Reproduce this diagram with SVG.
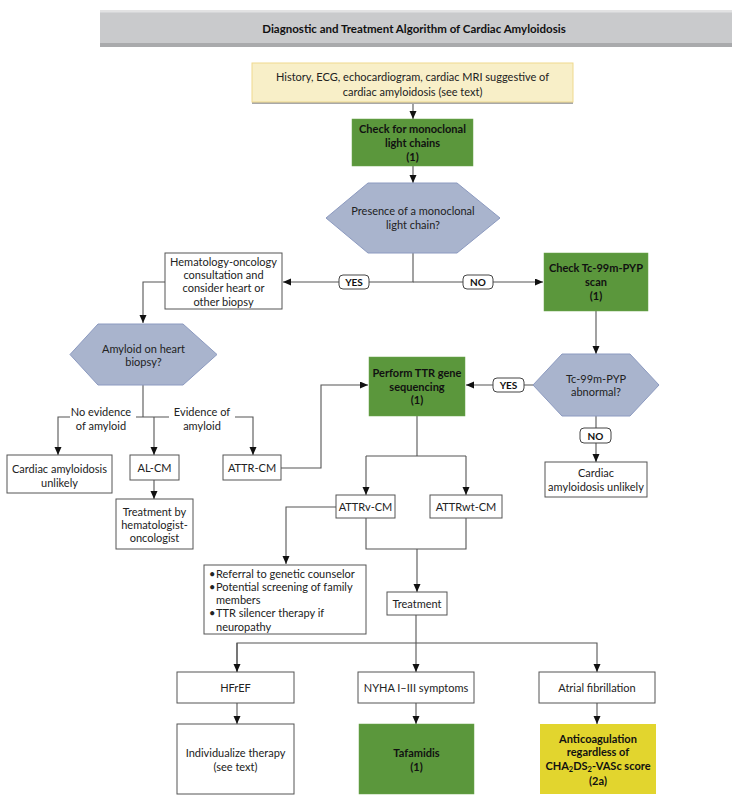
<svg xmlns="http://www.w3.org/2000/svg" width="736" height="802" viewBox="0 0 736 802">
<style>
text{font-family:Lato,"Open Sans","Liberation Sans",sans-serif;font-size:11px;fill:#222;text-anchor:middle}
.b{font-weight:bold;fill:#111}
.box{fill:#fff;stroke:#555;stroke-width:1}
.green{fill:#5b973c;stroke:#6aa54a;stroke-width:0.5}
.hex{fill:#a9b4cd;stroke:#8c9ac0;stroke-width:1}
.lab{fill:#fff;stroke:#444;stroke-width:1}
.c{fill:none;stroke:#555;stroke-width:1.1}
.bl{text-anchor:start}
</style>
<defs>
<marker id="ah" markerWidth="8" markerHeight="8" refX="8" refY="3.5" orient="auto" markerUnits="userSpaceOnUse">
<path d="M0,0 L8,3.5 L0,7 z" fill="#111"/>
</marker>
</defs>
<rect width="736" height="802" fill="#fff"/>

<g id="title">
<rect x="100" y="10" width="632" height="37" fill="#c9cacc"/>
<rect x="100" y="10" width="632" height="2.5" fill="#e2e2e3"/>
<rect x="100" y="43" width="632" height="4" fill="#a9aaac"/>
<text x="414" y="33" class="b" style="font-size:11.5px">Diagnostic and Treatment Algorithm of Cardiac Amyloidosis</text>
</g>

<g id="connectors">
<path class="c" d="M413,104 V119" marker-end="url(#ah)"/>
<path class="c" d="M413,166 V183" marker-end="url(#ah)"/>
<path class="c" d="M413,253 V282 H283" marker-end="url(#ah)"/>
<path class="c" d="M413,282 H543" marker-end="url(#ah)"/>
<path class="c" d="M165,282 H143 V323" marker-end="url(#ah)"/>
<path class="c" d="M143,385 V417"/>
<path class="c" d="M136,417 H169"/>
<path class="c" d="M154,417 V455" marker-end="url(#ah)"/>
<path class="c" d="M70,417 H58 V455" marker-end="url(#ah)"/>
<path class="c" d="M235,417 H253 V455" marker-end="url(#ah)"/>
<path class="c" d="M154,480 V499" marker-end="url(#ah)"/>
<path class="c" d="M281,468 H321 V385 H368" marker-end="url(#ah)"/>
<path class="c" d="M596,311 V354" marker-end="url(#ah)"/>
<path class="c" d="M533,385 H466" marker-end="url(#ah)"/>
<path class="c" d="M596,416 V462" marker-end="url(#ah)"/>
<path class="c" d="M417,416 V456"/>
<path class="c" d="M366,456 H466"/>
<path class="c" d="M366,456 V495" marker-end="url(#ah)"/>
<path class="c" d="M466,456 V495" marker-end="url(#ah)"/>
<path class="c" d="M336,507 H286 V564" marker-end="url(#ah)"/>
<path class="c" d="M366,518 V549 H466 V518"/>
<path class="c" d="M417,549 V592" marker-end="url(#ah)"/>
<path class="c" d="M416,615 V672" marker-end="url(#ah)"/>
<path class="c" d="M237,672 V643 H597 V672" marker-end="url(#ah)"/>
<path class="c" d="M237,643 V672" marker-end="url(#ah)"/>
<path class="c" d="M237,703 V724" marker-end="url(#ah)"/>
<path class="c" d="M416,703 V724" marker-end="url(#ah)"/>
<path class="c" d="M597,703 V724" marker-end="url(#ah)"/>
<rect class="lab" x="339" y="275" width="30" height="14" rx="4"/>
<text x="354" y="286" class="b" style="font-size:10px">YES</text>
<rect class="lab" x="463" y="275" width="30" height="14" rx="4"/>
<text x="478" y="286" class="b" style="font-size:10px">NO</text>
<rect class="lab" x="493" y="378" width="31" height="14" rx="4"/>
<text x="508.5" y="389" class="b" style="font-size:10px">YES</text>
<rect class="lab" x="580" y="428" width="31" height="15" rx="4"/>
<text x="595.5" y="439.5" class="b" style="font-size:10px">NO</text>
<text x="101" y="416">No evidence</text>
<text x="101" y="430">of amyloid</text>
<text x="202" y="416">Evidence of</text>
<text x="202" y="430">amyloid</text>
</g>

<g id="start">
<rect x="252" y="65" width="321" height="39" fill="#a8a8a8"/>
<rect x="252" y="63" width="321" height="39" fill="#f8efc8" stroke="#efd98e" stroke-width="1"/>
<text x="412.5" y="81">History, ECG, echocardiogram, cardiac MRI suggestive of</text>
<text x="412.5" y="96">cardiac amyloidosis (see text)</text>
</g>

<g id="check-monoclonal">
<rect class="green" x="352" y="119" width="121" height="47"/>
<text x="412.5" y="133" class="b">Check for monoclonal</text>
<text x="412.5" y="147" class="b">light chains</text>
<text x="412.5" y="161" class="b">(1)</text>
</g>

<g id="presence-monoclonal">
<polygon class="hex" points="368,183 457,183 500,218 457,253 368,253 326,218"/>
<text x="413" y="215">Presence of a monoclonal</text>
<text x="413" y="229">light chain?</text>
</g>

<g id="hematology-consult">
<rect class="box" x="165" y="253" width="117" height="56"/>
<text x="223.5" y="266">Hematology-oncology</text>
<text x="223.5" y="279">consultation and</text>
<text x="223.5" y="292">consider heart or</text>
<text x="223.5" y="306">other biopsy</text>
</g>

<g id="check-pyp">
<rect class="green" x="544" y="253" width="104" height="58"/>
<text x="596" y="272" class="b">Check Tc-99m-PYP</text>
<text x="596" y="286" class="b">scan</text>
<text x="596" y="300" class="b">(1)</text>
</g>

<g id="amyloid-biopsy">
<polygon class="hex" points="98,324 183,324 217,354.5 183,385 98,385 70,354.5"/>
<text x="143.5" y="353">Amyloid on heart</text>
<text x="143.5" y="366">biopsy?</text>
</g>

<g id="ttr-sequencing">
<rect class="green" x="369" y="357" width="96" height="59"/>
<text x="417" y="377" class="b">Perform TTR gene</text>
<text x="417" y="391" class="b">sequencing</text>
<text x="417" y="404" class="b">(1)</text>
</g>

<g id="pyp-abnormal">
<polygon class="hex" points="562,354 630,354 659,385 630,416 562,416 533,385"/>
<text x="596" y="383">Tc-99m-PYP</text>
<text x="596" y="396">abnormal?</text>
</g>

<g id="unlikely-left">
<rect class="box" x="7" y="455" width="105" height="38"/>
<text x="59.5" y="473">Cardiac amyloidosis</text>
<text x="59.5" y="487">unlikely</text>
</g>

<g id="al-cm">
<rect class="box" x="130" y="455" width="49" height="25"/>
<text x="154.5" y="472">AL-CM</text>
</g>

<g id="attr-cm">
<rect class="box" x="223" y="455" width="58" height="25"/>
<text x="252" y="472">ATTR-CM</text>
</g>

<g id="hem-treatment">
<rect class="box" x="116" y="499" width="77" height="50"/>
<text x="154.5" y="516">Treatment by</text>
<text x="154.5" y="529">hematologist-</text>
<text x="154.5" y="542">oncologist</text>
</g>

<g id="unlikely-right">
<rect class="box" x="545" y="462" width="102" height="35"/>
<text x="596" y="477">Cardiac</text>
<text x="596" y="491">amyloidosis unlikely</text>
</g>

<g id="attrv-cm">
<rect class="box" x="336" y="495" width="59" height="23"/>
<text x="365.5" y="511">ATTRv-CM</text>
</g>

<g id="attrwt-cm">
<rect class="box" x="430" y="495" width="72" height="23"/>
<text x="466" y="511">ATTRwt-CM</text>
</g>

<g id="attrv-actions">
<rect class="box" x="204" y="565" width="162" height="69"/>
<text x="209" y="578" class="bl">•</text>
<text x="216" y="578" class="bl">Referral to genetic counselor</text>
<text x="209" y="591" class="bl">•</text>
<text x="216" y="591" class="bl">Potential screening of family</text>
<text x="216" y="604" class="bl">members</text>
<text x="209" y="617" class="bl">•</text>
<text x="216" y="617" class="bl">TTR silencer therapy if</text>
<text x="216" y="631" class="bl">neuropathy</text>
</g>

<g id="treatment">
<rect class="box" x="387" y="592" width="60" height="23"/>
<text x="417" y="608">Treatment</text>
</g>

<g id="hfref">
<rect class="box" x="177" y="672" width="117" height="31"/>
<text x="235.5" y="692">HFrEF</text>
</g>

<g id="nyha">
<rect class="box" x="358" y="672" width="116" height="31"/>
<text x="416" y="692">NYHA I–III symptoms</text>
</g>

<g id="af">
<rect class="box" x="539" y="672" width="116" height="31"/>
<text x="597" y="692">Atrial fibrillation</text>
</g>

<g id="individualize">
<rect class="box" x="177" y="724" width="117" height="70"/>
<text x="235.5" y="757">Individualize therapy</text>
<text x="235.5" y="771">(see text)</text>
</g>

<g id="tafamidis">
<rect class="green" x="359" y="724" width="115" height="70"/>
<text x="416.5" y="757" class="b">Tafamidis</text>
<text x="416.5" y="771" class="b">(1)</text>
</g>

<g id="anticoagulation">
<rect x="540" y="724" width="116" height="70" fill="#e2d52e"/>
<text x="598" y="743" class="b">Anticoagulation</text>
<text x="598" y="756" class="b">regardless of</text>
<text x="598" y="770" class="b">CHA<tspan font-size="7.5" dy="1.5">2</tspan><tspan dy="-1.5">DS</tspan><tspan font-size="7.5" dy="1.5">2</tspan><tspan dy="-1.5">-VASc score</tspan></text>
<text x="598" y="785" class="b">(2a)</text>
</g>
</svg>
